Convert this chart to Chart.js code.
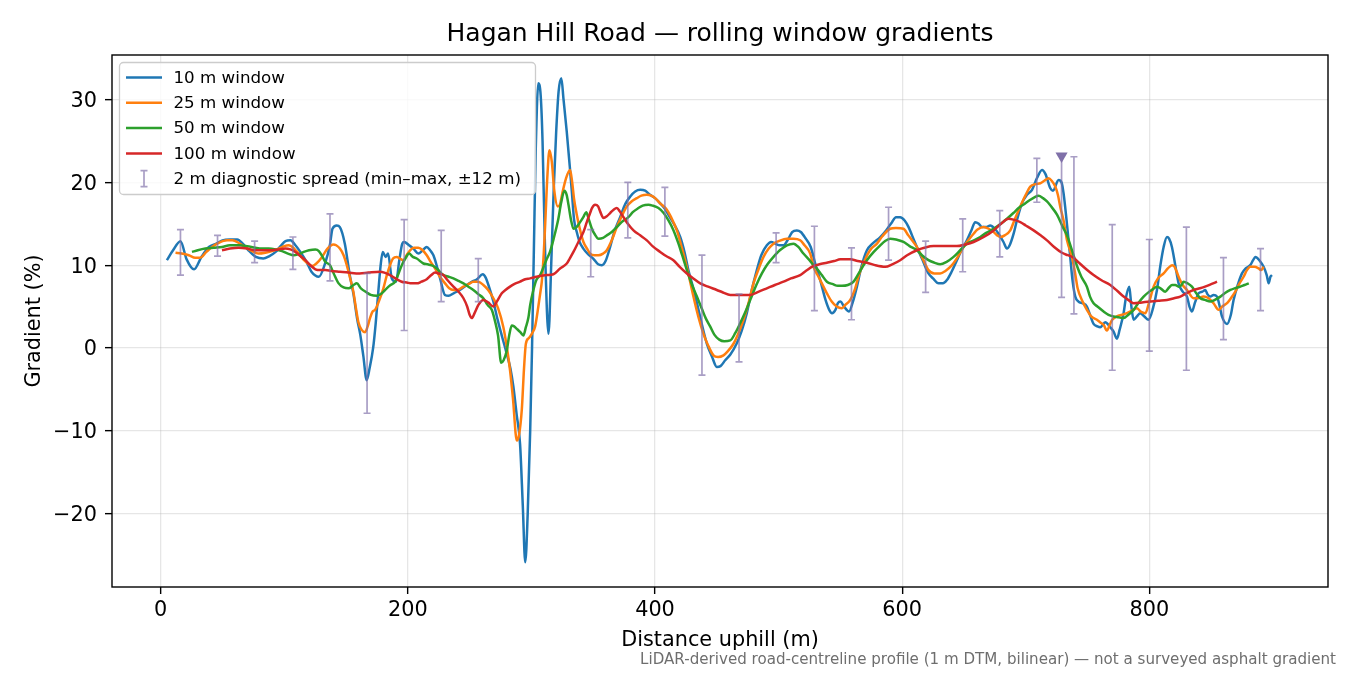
<!DOCTYPE html>
<html>
<head>
<meta charset="utf-8">
<script src="https://cdn.jsdelivr.net/npm/chart.js@4.4.1/dist/chart.umd.min.js"></script>
<style>
  html, body { margin: 0; padding: 0; background: #fff; }
  #wrap { width: 1350px; height: 675px; }
</style>
</head>
<body>
<div id="wrap"><canvas id="chart" width="1350" height="675"></canvas></div>
<script>
// --- data: [distance (m), gradient (%)] ---
const win10 = [[5,10.6],[10,11.8],[16,12.9],[21,10.7],[27,9.5],[33,11.0],[39,12.2],[45,12.6],[50,13.0],[56,13.1],[62,13.1],[67,12.5],[71,11.8],[77,11.0],[83,10.8],[88,11.1],[93,11.6],[97,12.3],[101,12.9],[105,13.0],[109,12.4],[113,11.6],[118,10.4],[122,9.2],[128,8.6],[133,10.2],[137,12.5],[139,14.4],[142.5,14.8],[145,14.6],[149,12.6],[153,8.8],[156,6.5],[159,3.5],[161.5,1.6],[164,-1.0],[166.7,-3.9],[169,-2.5],[172,0.1],[174,3.0],[176,6.6],[178,10.0],[179.7,11.6],[182,11.0],[184,11.4],[187,8.4],[190.5,8.0],[193,10.5],[195.5,12.6],[197,12.8],[201,12.4],[204.5,12.0],[208.5,11.4],[212,11.8],[215.3,12.2],[218,11.8],[220.7,11.2],[224,9.6],[226.1,8.4],[230,6.4],[233,6.3],[237,6.6],[242,7.0],[247.7,7.6],[252,8.0],[256,8.3],[260.6,8.9],[263,8.5],[265.2,7.6],[269.2,5.6],[272,3.8],[276,1.5],[280,-0.7],[283,-2.5],[285.4,-4.7],[288,-8.0],[290.8,-11.6],[293,-19],[295,-25.9],[297,-20],[299,-10],[300.5,0],[302,12],[303.5,24],[305.6,32.0],[307.5,30.5],[309,25],[311,12],[313.8,1.7],[316,10],[318,19],[320,26],[322,31],[324.2,32.6],[326,30],[328.6,26.1],[331,22],[332.7,18.9],[334.5,15.5],[336.7,14.0],[339,12.8],[342,12.0],[346,11.3],[350,10.8],[354,10.1],[357,10.0],[360,10.5],[363.7,12.2],[367,14.0],[371.8,15.8],[376,17.4],[380,18.3],[384,18.9],[388,19.1],[392,19.0],[396,18.5],[400,18.1],[404,17.5],[408,16.8],[412,15.8],[416,14.8],[420.4,13.4],[424,11.5],[427,9.4],[431,7.2],[434,5.4],[438,2.8],[442,0.5],[446,-1.0],[450,-2.3],[453,-2.2],[456.8,-1.5],[461,-0.8],[466,0.5],[470,2.0],[474.3,4.2],[478,6.8],[482.4,9.4],[486,11.2],[490.5,12.4],[494,12.8],[497.3,12.6],[501,12.4],[504,12.4],[508,13.2],[511,14.0],[514.8,14.2],[518,14.0],[522,13.2],[526,12.2],[530,10.0],[533.7,8.2],[538,5.8],[541,4.6],[543.2,4.2],[546,4.6],[548,5.4],[550,5.6],[553,5.0],[557,4.4],[560,5.5],[563.4,7.4],[567,9.8],[571.5,11.8],[576,12.6],[582.3,13.4],[587,14.2],[591.8,15.2],[595,15.8],[598.4,15.8],[602,15.4],[605.2,14.6],[608,13.6],[611.9,12.2],[616,10.8],[621.3,9.0],[625,8.4],[629.4,7.8],[633,7.8],[636.2,8.2],[640,9.2],[644.3,10.6],[648,11.8],[652.4,13.0],[656,14.2],[659.1,15.2],[662,15.0],[664.6,14.6],[668,14.6],[671.3,14.8],[675,14.4],[678,13.8],[682,12.8],[684.8,12.0],[687,12.4],[690.2,13.8],[693,15.5],[697,17.5],[701,18.5],[705.1,19.1],[709,20.5],[713.2,21.5],[716,21.0],[719.9,19.3],[722,19.0],[726.6,20.3],[729,20.0],[730.6,18.7],[733,15.5],[736,11.0],[738,8.0],[740.1,6.2],[742.7,5.6],[746,5.4],[749.5,5.0],[752,4.0],[754.9,2.9],[758,2.6],[760.3,2.5],[764.4,3.1],[768.4,2.5],[771,2.0],[773.8,1.1],[776,2.2],[779.2,4.2],[781,6.0],[783.8,7.4],[785.5,5.0],[787.3,3.4],[790,3.8],[792.7,4.2],[796,3.8],[799.4,3.4],[803,4.8],[806.2,7.0],[809,10.0],[811.6,12.2],[814.3,13.4],[816,13.2],[818.3,12.2],[821,10.0],[823.7,7.8],[827,6.8],[830.5,6.2],[832.5,5.0],[834.5,4.4],[837,5.5],[839.9,6.6],[843,6.8],[845.3,7.0],[847,6.5],[849.4,6.2],[852,6.4],[854.8,6.2],[857,5.0],[858.8,3.8],[862.9,2.9],[866,4.0],[868.2,5.8],[872,7.8],[875,9.0],[878,9.6],[881.7,10.0],[884,10.6],[885.8,11.0],[889,10.6],[892.5,9.8],[895,8.8],[896.6,7.8],[898,8.6],[899.3,8.8]];

const win25 = [[12,11.5],[17,11.4],[22.7,11.2],[28,10.9],[32,10.9],[37,11.6],[41.5,12.2],[47,12.7],[53.7,13.0],[58,13.0],[63,12.7],[68,12.2],[74,11.7],[79,11.4],[84.7,11.5],[90,11.7],[95.5,12.0],[100,12.3],[103.6,12.4],[108,12.0],[111.7,11.4],[116,10.6],[120,10.1],[122.5,9.9],[126,10.2],[130.6,11.0],[135,12.0],[139.7,12.5],[142,12.4],[145,12.0],[148,11.2],[150.6,10.0],[153,8.6],[155.9,6.8],[158,4.8],[160,3.1],[162.5,2.2],[165.4,1.9],[167.5,2.6],[169.4,3.6],[171.5,4.4],[173.5,4.6],[176.5,5.6],[180.2,7.2],[183,8.8],[185.6,10.0],[188,10.8],[191,11.0],[193.5,10.8],[196.4,10.6],[199,11.2],[201.8,11.8],[205,12.1],[208.5,12.1],[212,11.8],[215.3,11.2],[218.5,10.4],[222,9.6],[226,8.6],[230.1,7.8],[233.5,7.2],[236.9,7.0],[240,7.0],[245,7.4],[249,7.7],[253,8.0],[257,8.0],[261.1,7.6],[265,7.0],[269.2,6.0],[273,4.8],[277.3,2.5],[280,0.2],[282.7,-2.7],[285,-6],[288.2,-11.2],[290,-10.5],[292.2,-7.5],[294,-2.5],[295.5,0.5],[298,1.2],[300.3,1.7],[303,2.6],[305.6,5.0],[307.5,7.0],[308.4,8.0],[310,11.5],[311.1,14.8],[313,21.0],[314.6,23.9],[316.5,22.5],[318.5,19.0],[321.3,17.1],[323,17.3],[325,18.7],[328,20.5],[331.3,21.5],[333,20.0],[334.5,18.0],[336.7,16.1],[339,14.5],[342.1,12.8],[345,12.0],[347.5,11.4],[351,11.2],[354.2,11.2],[358,11.4],[361,11.8],[365,13.0],[369.1,14.6],[373,15.9],[377.2,17.1],[381,17.7],[385.3,18.1],[389,18.4],[393.4,18.5],[397,18.4],[400.1,18.1],[404,17.5],[409.6,16.7],[413,15.8],[417.7,14.2],[421,12.5],[424.4,10.6],[428,8.3],[431.1,6.2],[435,3.8],[439.2,1.7],[443,0.3],[447.3,-0.9],[451,-1.1],[455.4,-0.9],[459,-0.4],[463.5,0.5],[467,1.6],[471.6,3.4],[476,5.6],[479.7,7.8],[484,9.6],[487.8,11.0],[492,12.0],[495.9,12.6],[500,12.9],[506.7,13.2],[512,13.2],[517.5,13.0],[521,12.4],[525.6,11.4],[528.3,9.8],[532.3,8.6],[535,7.8],[539.1,6.6],[543,5.6],[547,5.0],[551.3,4.8],[554,5.2],[558,5.8],[562,7.2],[565,8.8],[568.7,10.2],[572,11.3],[575,12.0],[579.6,12.6],[584,13.5],[590.3,14.4],[595,14.5],[601.1,14.4],[605,13.6],[608,13.0],[611.9,12.2],[616,11.0],[621.3,9.4],[626,9.0],[630.8,9.0],[635,9.3],[640.3,10.0],[645,11.0],[649.7,12.2],[654,13.1],[657.8,13.8],[661,14.3],[665.9,14.6],[670,14.4],[674,14.0],[677,13.6],[679.4,13.4],[683,13.6],[687.5,14.2],[691,15.5],[695.6,17.1],[700,18.5],[703.7,19.5],[708,19.8],[711.8,19.9],[715,20.2],[718.5,20.5],[721,20.2],[723.9,19.5],[726,18.5],[728,17.0],[730.6,15.4],[733.4,13.0],[737.4,11.0],[740,9.0],[742,7.2],[746,5.6],[749.5,4.6],[753,3.8],[757.6,3.4],[761,3.0],[763,2.8],[765.7,2.1],[768,2.8],[770,3.4],[773.8,3.8],[778,4.0],[781.9,4.2],[786,4.5],[790,4.8],[793,4.4],[796.8,4.2],[800,5.6],[803.5,7.4],[807,8.4],[811.6,9.0],[815,9.6],[818.4,10.0],[820.5,9.8],[823.7,8.6],[827,7.6],[830.5,7.0],[835.8,6.0],[839,6.0],[843.9,6.2],[848,6.0],[852,5.4],[856.1,4.6],[859,5.0],[862.9,5.4],[866,6.0],[869.6,6.8],[873,7.8],[876.3,8.6],[879,9.4],[881.7,9.8],[885,9.8],[888.5,9.6],[890.5,9.4],[892.5,9.8]];

const win50 = [[25.3,11.6],[30,11.8],[36.1,12.0],[43,12.1],[49.6,12.2],[56,12.4],[63.1,12.4],[70,12.3],[76.6,12.1],[82,12.0],[87.4,12.0],[93,11.9],[98.2,11.7],[103,11.4],[107.7,11.2],[111,11.3],[115.8,11.6],[120,11.8],[125.2,11.9],[128,11.7],[131,11.0],[133.2,10.4],[137,10.0],[140,9.0],[144,7.8],[148,7.3],[152,7.2],[156,7.6],[158.7,7.8],[162,7.2],[166.7,6.7],[170,6.4],[174.8,6.3],[179,6.6],[182.9,7.2],[186,7.6],[189.7,8.0],[192,8.8],[195.1,10.0],[198,10.8],[201,11.4],[204,11.0],[207.2,10.8],[212.6,10.2],[216,10.1],[220.7,9.9],[224,9.5],[228.8,8.8],[233,8.6],[236.9,8.4],[241,8.1],[245,7.8],[249,7.4],[253,7.0],[257,6.5],[261.1,6.0],[264.5,5.2],[267.9,4.6],[270.6,3.2],[273,1.5],[275.5,-1.8],[277.5,-1.5],[280.1,-0.3],[282,1.5],[284.1,2.7],[286,2.6],[288.2,2.3],[291,1.9],[293.5,1.5],[295.5,2.5],[297.6,3.7],[299,5.2],[301.6,7.0],[304,8.2],[307,8.8],[312,10.6],[315,11.6],[318,13.2],[321.8,15.6],[324,17.5],[326.7,19.0],[328.5,18.5],[330,17.3],[332,15.5],[334,14.4],[336.5,14.6],[339.4,15.2],[342,15.8],[344.3,16.4],[346.5,15.5],[348.9,14.4],[351,13.8],[354.3,13.2],[358,13.3],[361,13.6],[365,14.0],[369.1,14.6],[373,15.2],[378.5,15.8],[382,16.4],[386.6,16.9],[390,17.2],[394.7,17.3],[398,17.2],[402.8,16.9],[407,16.3],[410.9,15.4],[415,14.2],[419,12.6],[422,11.2],[425.8,9.4],[430,7.6],[433.9,6.2],[438,4.7],[441,3.6],[444.6,2.6],[448,1.6],[452,1.0],[456,0.8],[460.9,0.9],[465,1.8],[469,3.0],[473,4.3],[477.1,5.8],[482,7.6],[486.5,9.0],[491,10.1],[495.9,11.0],[501,11.8],[506.7,12.4],[512.1,12.6],[516,12.2],[520.1,11.4],[525,10.6],[528.3,10.0],[531,9.6],[535,8.8],[539.1,8.0],[544,7.7],[548,7.5],[551.3,7.5],[556,7.6],[560.7,8.0],[564,8.8],[568,9.8],[571.5,10.6],[577,11.6],[582.3,12.4],[586,12.9],[590.3,13.2],[595,13.1],[601.1,12.8],[606,12.3],[611.9,11.8],[616,11.2],[621.3,10.6],[626,10.3],[630.8,10.1],[636,10.4],[641.6,11.0],[647,11.8],[652.4,12.6],[658,13.0],[663.2,13.4],[668,13.9],[674,14.4],[679,14.9],[684.8,15.6],[690,16.3],[694.2,16.9],[699,17.4],[703.7,17.9],[707,18.2],[710.4,18.4],[714,18.1],[717.2,17.7],[720,17.2],[725.3,16.1],[730,14.6],[733.4,13.6],[737,12.0],[741.5,9.9],[745,8.6],[749.5,7.4],[752,6.2],[754.9,5.4],[758,5.0],[763,4.4],[767,4.0],[771.1,3.8],[775,3.7],[779.2,3.6],[783,4.0],[787.3,4.6],[791,5.4],[795.4,6.2],[800,6.8],[803,7.1],[806.2,7.4],[809,7.2],[812.9,6.8],[816,7.3],[818.4,7.6],[821,7.6],[823.7,7.4],[826,7.6],[827.8,8.0],[831,7.8],[834.5,7.4],[838,6.6],[841.3,6.0],[845,5.8],[849.4,5.6],[853,5.8],[857.5,6.2],[861,6.6],[865.6,7.0],[869,7.2],[873.7,7.4],[877,7.6],[880.5,7.8]];

const win100 = [[49.6,11.8],[56,12.0],[63.1,12.1],[70,12.0],[76.6,11.8],[83,11.8],[90.1,11.8],[95,11.9],[100.9,12.0],[105,11.9],[109,11.6],[113,11.1],[117.1,10.6],[121,10.0],[125.2,9.5],[129,9.4],[133.2,9.4],[138,9.3],[145,9.2],[152,9.1],[161,9.0],[168,9.1],[177.5,9.2],[181,9.1],[185.6,8.8],[190,8.4],[195,8.0],[199.1,7.9],[203,7.8],[207.2,7.8],[211,8.0],[215.3,8.3],[219,8.8],[222,9.1],[225,9.0],[228.8,8.8],[232,8.2],[236.9,7.4],[241,6.8],[245,6.0],[248,5.0],[250,4.0],[251.7,3.6],[254,4.2],[257.1,5.2],[261.1,5.8],[265,5.5],[269.2,5.0],[272,5.6],[276,6.6],[279,7.0],[282.7,7.4],[286,7.7],[290.8,8.0],[295,8.3],[298.9,8.4],[304,8.6],[307,8.7],[312.4,8.8],[317.8,8.9],[323.2,9.6],[328.6,10.2],[331,10.8],[334,11.6],[338,12.8],[342.1,14.0],[345,15.3],[347.5,16.3],[349,16.9],[351.5,17.3],[354,17.1],[355.6,16.5],[358.3,15.7],[361,15.9],[363.7,16.3],[366.5,16.7],[369.1,16.9],[371.5,16.5],[374.5,15.8],[378,15.0],[382.6,14.2],[388,13.6],[393.4,13.0],[398,12.3],[404.2,11.6],[409,11.1],[414.9,10.6],[420,9.8],[425.8,9.0],[431,8.4],[436.6,7.8],[443,7.4],[450,7.0],[455,6.7],[460.9,6.4],[468,6.4],[477.1,6.4],[484,6.8],[490.5,7.2],[497,7.6],[504,8.0],[510,8.4],[517.5,8.8],[522,9.3],[528.3,9.9],[533,10.1],[539.1,10.3],[545,10.5],[550,10.7],[558,10.7],[564,10.5],[571.5,10.3],[578,10.0],[586.3,9.8],[592,10.1],[598.4,10.6],[604,11.2],[611.9,11.8],[618,12.1],[625.4,12.3],[635,12.3],[644.3,12.3],[651,12.5],[657.8,12.8],[666,13.4],[674,14.2],[680,15.0],[686.1,15.6],[690,15.5],[695.6,15.2],[700,14.8],[706.4,14.2],[712,13.6],[717.2,13.0],[723,12.2],[729.3,11.5],[734,11.2],[738.7,10.9],[743,10.3],[749,9.5],[754.9,8.8],[761,8.2],[768.4,7.6],[774,6.9],[779.2,6.2],[783,5.8],[787.3,5.4],[794,5.5],[800.8,5.6],[807,5.7],[814.3,5.8],[820,6.0],[825.1,6.2],[830,6.6],[835.8,7.0],[841,7.2],[846.7,7.5],[850,7.7],[854.8,8.0]];

// 2 m diagnostic spread (min / max within ±12 m)
const spreadX  = [16, 46, 76, 107, 137, 167, 197, 227, 257, 348, 378, 408, 438, 468, 498, 529, 559, 589, 619, 649, 679, 709, 729, 739, 770, 800, 830, 860, 890];
const spreadLo = [8.8, 11.1, 10.3, 9.5, 8.1, -7.9, 2.1, 5.6, 5.6, 8.6, 13.3, 13.5, -3.3, -1.7, 10.3, 4.5, 3.4, 10.6, 6.7, 9.2, 11.0, 17.6, 6.1, 4.1, -2.7, -0.4, -2.7, 1.0, 4.5];
const spreadHi = [14.3, 13.6, 12.9, 13.4, 16.2, 9.0, 15.5, 14.2, 10.8, 14.3, 20.0, 19.4, 11.2, 6.5, 13.9, 14.7, 12.1, 17.0, 12.9, 15.6, 16.6, 22.9, 23.2, 23.1, 14.9, 13.1, 14.6, 10.9, 12.0];

// steepest-point marker
const peakMark = [[729, 23.2]];

const seriesLabels = ['10 m window', '25 m window', '50 m window', '100 m window'];
const seriesColors = ['#1f77b4', '#ff7f0e', '#2ca02c', '#d62728'];
const spreadLabel = '2 m diagnostic spread (min\u2013max, \u00b112 m)';
const xTicks = [0, 200, 400, 600, 800];
const yTicks = [-20, -10, 0, 10, 20, 30];

const FONT = "'DejaVu Sans', 'Liberation Sans', sans-serif";
const SPREAD_COLOR = 'rgba(128, 112, 170, 0.68)';
const MARK_COLOR = '#7f70a8';

const toPts = arr => arr.map(p => ({ x: p[0], y: p[1] }));

// error bars, frame, legend and footnote drawn over the plot
const overlay = {
    id: 'overlay',
    afterDatasetsDraw(chart) {
        const { ctx, chartArea: a, scales: { x, y } } = chart;
        ctx.save();

        // error bars
        ctx.strokeStyle = SPREAD_COLOR;
        ctx.lineWidth = 1.7;
        spreadX.forEach((d, i) => {
            const px = x.getPixelForValue(d);
            const lo = y.getPixelForValue(spreadLo[i]);
            const hi = y.getPixelForValue(spreadHi[i]);
            ctx.beginPath();
            ctx.moveTo(px, lo); ctx.lineTo(px, hi);
            ctx.moveTo(px - 3.5, lo); ctx.lineTo(px + 3.5, lo);
            ctx.moveTo(px - 3.5, hi); ctx.lineTo(px + 3.5, hi);
            ctx.stroke();
        });

        // axes frame
        ctx.strokeStyle = '#000';
        ctx.lineWidth = 1.4;
        ctx.strokeRect(a.left, a.top, a.right - a.left, a.bottom - a.top);

        // legend box
        const lx = a.left + 7.5, ly = a.top + 7.5, lw = 416, lh = 132;
        ctx.beginPath();
        ctx.roundRect(lx, ly, lw, lh, 4);
        ctx.fillStyle = 'rgba(255,255,255,0.8)';
        ctx.fill();
        ctx.strokeStyle = '#cccccc';
        ctx.lineWidth = 1.3;
        ctx.stroke();

        ctx.font = '16.7px ' + FONT;
        ctx.textBaseline = 'middle';
        ctx.textAlign = 'left';
        const rowY = i => ly + 15 + i * 25.3;
        seriesLabels.forEach((lab, i) => {
            ctx.strokeStyle = seriesColors[i];
            ctx.lineWidth = 2.5;
            ctx.beginPath();
            ctx.moveTo(lx + 6.5, rowY(i)); ctx.lineTo(lx + 42.5, rowY(i));
            ctx.stroke();
            ctx.fillStyle = '#000';
            ctx.fillText(lab, lx + 54, rowY(i) + 1);
        });
        const ey = rowY(4), ex = lx + 24.5;
        ctx.strokeStyle = SPREAD_COLOR;
        ctx.lineWidth = 1.7;
        ctx.beginPath();
        ctx.moveTo(ex, ey - 8); ctx.lineTo(ex, ey + 8);
        ctx.moveTo(ex - 3.5, ey - 8); ctx.lineTo(ex + 3.5, ey - 8);
        ctx.moveTo(ex - 3.5, ey + 8); ctx.lineTo(ex + 3.5, ey + 8);
        ctx.stroke();
        ctx.fillStyle = '#000';
        ctx.fillText(spreadLabel, lx + 54, ey + 1);

        // footnote
        ctx.font = '15.1px ' + FONT;
        ctx.fillStyle = '#6e6e6e';
        ctx.textAlign = 'right';
        ctx.fillText('LiDAR-derived road-centreline profile (1 m DTM, bilinear) \u2014 not a surveyed asphalt gradient', 1336, 660);

        ctx.restore();
    }
};

const lineSet = (pts, i) => ({
    label: seriesLabels[i],
    data: toPts(pts),
    borderColor: seriesColors[i],
    backgroundColor: seriesColors[i],
    borderWidth: 2.5,
    pointRadius: 0,
    cubicInterpolationMode: 'monotone',
    fill: false,
    order: 5 - i
});

new Chart(document.getElementById('chart'), {
    type: 'line',
    data: {
        datasets: [
            lineSet(win10, 0),
            lineSet(win25, 1),
            lineSet(win50, 2),
            lineSet(win100, 3),
            {
                label: 'steepest',
                data: toPts(peakMark),
                showLine: false,
                pointStyle: 'triangle',
                rotation: 180,
                pointRadius: 7,
                pointBackgroundColor: MARK_COLOR,
                pointBorderColor: MARK_COLOR,
                pointBorderWidth: 0,
                order: 0
            }
        ]
    },
    options: {
        responsive: false,
        devicePixelRatio: 1,
        animation: false,
        events: [],
        layout: { padding: { top: 0, right: 22, bottom: 0, left: 0 } },
        plugins: {
            legend: { display: false },
            tooltip: { enabled: false },
            title: {
                display: true,
                fullSize: false,
                text: 'Hagan Hill Road \u2014 rolling window gradients',
                color: '#000',
                font: { family: FONT, size: 25, weight: 'normal' },
                padding: { top: 19, bottom: 6 }
            }
        },
        scales: {
            x: {
                type: 'linear',
                min: -39.4,
                max: 944.6,
                afterBuildTicks: s => { s.ticks = xTicks.map(v => ({ value: v })); },
                afterFit: s => { s.height = 88; },
                ticks: {
                    color: '#000',
                    padding: 4,
                    maxRotation: 0,
                    font: { family: FONT, size: 20.8 },
                    callback: v => String(v)
                },
                grid: {
                    color: 'rgba(176,176,176,0.32)',
                    lineWidth: 1.3,
                    tickColor: '#000',
                    tickWidth: 1.4,
                    tickLength: 7
                },
                border: { display: false },
                title: {
                    display: true,
                    text: 'Distance uphill (m)',
                    color: '#000',
                    font: { family: FONT, size: 20.8 },
                    padding: { top: 0, bottom: 22 }
                }
            },
            y: {
                min: -28.9,
                max: 35.4,
                afterBuildTicks: s => { s.ticks = yTicks.map(v => ({ value: v })); },
                afterFit: s => { s.width = 112; },
                ticks: {
                    color: '#000',
                    padding: 8,
                    labelOffset: 2,
                    font: { family: FONT, size: 20.8 },
                    callback: v => (v < 0 ? '\u2212' + Math.abs(v) : String(v))
                },
                grid: {
                    color: 'rgba(176,176,176,0.32)',
                    lineWidth: 1.3,
                    tickColor: '#000',
                    tickWidth: 1.4,
                    tickLength: 7
                },
                border: { display: false },
                title: {
                    display: true,
                    text: 'Gradient (%)',
                    color: '#000',
                    font: { family: FONT, size: 20.8 },
                    padding: { top: 22, bottom: 0 }
                }
            }
        }
    },
    plugins: [overlay]
});
</script>
</body>
</html>
